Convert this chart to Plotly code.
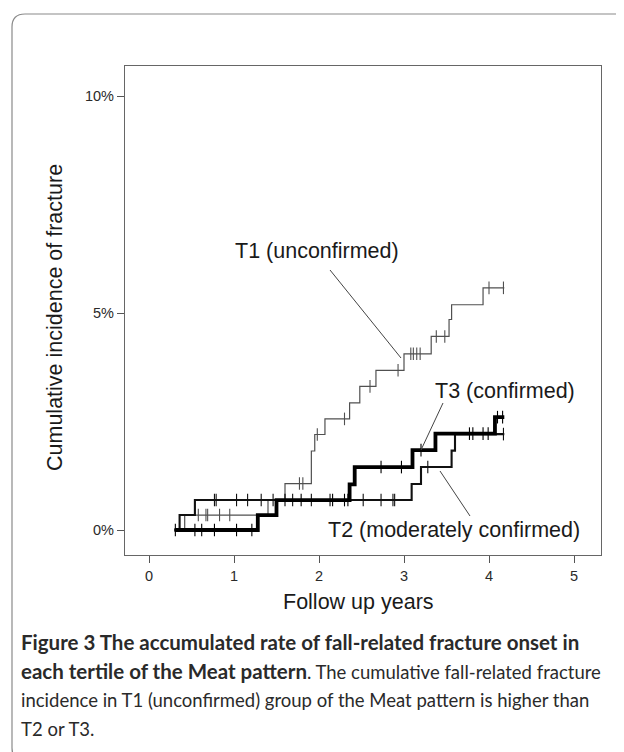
import plotly.graph_objects as go

# ---------------- data ----------------
years_ticks = [0, 1, 2, 3, 4, 5]
pct_ticks = [0, 5, 10]
pct_tick_labels = ["0%", "5%", "10%"]

# T1 (unconfirmed) - thin grey line
t1_times = [0.30, 0.42, 1.40, 1.60, 1.91, 1.95, 2.07, 2.36, 2.48, 2.67, 3.00, 3.32, 3.53, 3.56, 3.93]
t1_vals = [0.0, 0.345, 0.69, 1.07, 1.82, 2.20, 2.56, 2.93, 3.31, 3.68, 4.06, 4.46, 4.85, 5.19, 5.58]
t1_end = 4.18
t1_censor = [0.58, 0.67, 0.69, 0.83, 0.95, 1.77, 1.81, 1.98, 2.30, 2.60, 2.93,
             3.08, 3.11, 3.15, 3.19, 3.38, 3.48, 4.00, 4.17]

# T2 (moderately confirmed) - medium black line
t2_times = [0.30, 0.36, 0.54, 3.09, 3.20, 3.56, 3.60]
t2_vals = [0.0, 0.345, 0.69, 1.06, 1.45, 1.83, 2.21]
t2_end = 4.18
t2_censor = [0.77, 0.79, 1.03, 1.16, 1.32, 1.46, 1.69, 1.91, 2.13, 2.52, 2.73,
             2.87, 2.89, 3.28, 4.17]

# T3 (confirmed) - thick black line
t3_times = [0.30, 1.28, 1.50, 2.36, 2.42, 3.10, 3.37, 4.07]
t3_vals = [0.0, 0.345, 0.69, 1.05, 1.45, 1.84, 2.22, 2.60]
t3_end = 4.18
t3_censor = [0.31, 0.54, 0.62, 0.77, 1.03, 1.21, 1.60, 1.79, 2.16, 2.30, 2.34,
             2.73, 2.97, 3.20, 3.77, 3.81, 3.93, 3.99, 4.10, 4.16]

# ---------------- layout geometry ----------------
W, H = 624, 752
L, R, T, B = 117, 593, 58, 547      # plot frame in pixels


def px(x):
    return (x - L) / (R - L)


def py(y):
    return (B - y) / (B - T)


def step_value(times, vals, t):
    v = vals[0]
    for tt, vv in zip(times, vals):
        if tt <= t + 1e-9:
            v = vv
    return v


fig = go.Figure()

series = [
    ("T1", t1_times, t1_vals, t1_end, t1_censor, "#505050", 1.2),
    ("T2", t2_times, t2_vals, t2_end, t2_censor, "#111111", 2.1),
    ("T3", t3_times, t3_vals, t3_end, t3_censor, "#000000", 3.8),
]

for name, times, vals, end, cens, col, w in series:
    fig.add_trace(go.Scatter(
        x=list(times) + [end], y=list(vals) + [vals[-1]],
        mode="lines", line=dict(color=col, width=w, shape="hv"),
        name=name, showlegend=False, hoverinfo="skip"))
    fig.add_trace(go.Scatter(
        x=cens, y=[step_value(times, vals, c) for c in cens],
        mode="markers",
        marker=dict(symbol="line-ns", size=9, line=dict(color=col, width=1.1)),
        showlegend=False, hoverinfo="skip"))

axis_font = dict(family="Liberation Sans, Arial", size=14.5, color="#2a2a2a")
fig.update_xaxes(range=[(L - 141) / 85, (R - 141) / 85], tickvals=years_ticks,
                 ticktext=[str(v) for v in years_ticks],
                 showline=True, mirror=True, linecolor="#666666", linewidth=1.3,
                 ticks="outside", ticklen=7, tickcolor="#555555", tickwidth=1,
                 showgrid=False, zeroline=False, tickfont=axis_font)
fig.update_yaxes(range=[(522 - B) / 43.4, (522 - T) / 43.4], tickvals=pct_ticks,
                 ticktext=pct_tick_labels,
                 showline=True, mirror=True, linecolor="#666666", linewidth=1.3,
                 ticks="outside", ticklen=7, tickcolor="#555555", tickwidth=1,
                 showgrid=False, zeroline=False, tickfont=axis_font)

big = dict(family="Liberation Sans, Arial", size=21.5, color="#1a1a1a")
ann = []
ann.append(dict(x=px(350), y=py(594), text="Follow up years", font=big))
ann.append(dict(x=px(47), y=py(310), text="Cumulative incidence of fracture",
                font=big, textangle=-90))
ann.append(dict(x=px(225), y=py(243), text="T1 (unconfirmed)", font=big, xanchor="left"))
ann.append(dict(x=px(425), y=py(383), text="T3 (confirmed)", font=big, xanchor="left"))
ann.append(dict(x=px(318), y=py(522), text="T2 (moderately confirmed)", font=big, xanchor="left"))

cap = dict(family="Lato, Open Sans", size=18.5, color="#2a2a2a")
bs = "<b><span style='font-size:20.5px'>"
be = "</span></b>"
cap_lines = [
    bs + "Figure 3 The accumulated rate of fall-related fracture onset in" + be,
    bs + "each tertile of the Meat pattern" + be + ". The cumulative fall-related fracture",
    "incidence in T1 (unconfirmed) group of the Meat pattern is higher than",
    "T2 or T3.",
]
cap_y = [634, 663, 692, 721]
for line, yy in zip(cap_lines, cap_y):
    ann.append(dict(x=px(11), y=py(yy), text=line, font=cap, xanchor="left"))

for a in ann:
    a.update(xref="paper", yref="paper", showarrow=False)
    a.setdefault("xanchor", "center")
    a.setdefault("yanchor", "middle")
fig.update_layout(annotations=ann)

shapes = []
# leader lines
for (x0, y0, x1, y1) in [(322, 262, 393, 350), (435, 395, 413, 442), (432, 463, 462, 508)]:
    shapes.append(dict(type="line", xref="paper", yref="paper",
                       x0=px(x0), y0=py(y0), x1=px(x1), y1=py(y1),
                       line=dict(color="#444444", width=1)))
# card border (rounded top-left corner)
path = (f"M {px(624)},{py(6)} L {px(17)},{py(6)} Q {px(4)},{py(6)} {px(4)},{py(19)} "
        f"L {px(4)},{py(740)} Q {px(4)},{py(751)} {px(13)},{py(751)}")
shapes.append(dict(type="path", xref="paper", yref="paper", path=path,
                   line=dict(color="#8a8a8a", width=1.2)))
fig.update_layout(shapes=shapes)

fig.update_layout(width=W, height=H, margin=dict(l=L, r=W - R, t=T, b=H - B),
                  paper_bgcolor="white", plot_bgcolor="white")

fig.write_html("out.html")
